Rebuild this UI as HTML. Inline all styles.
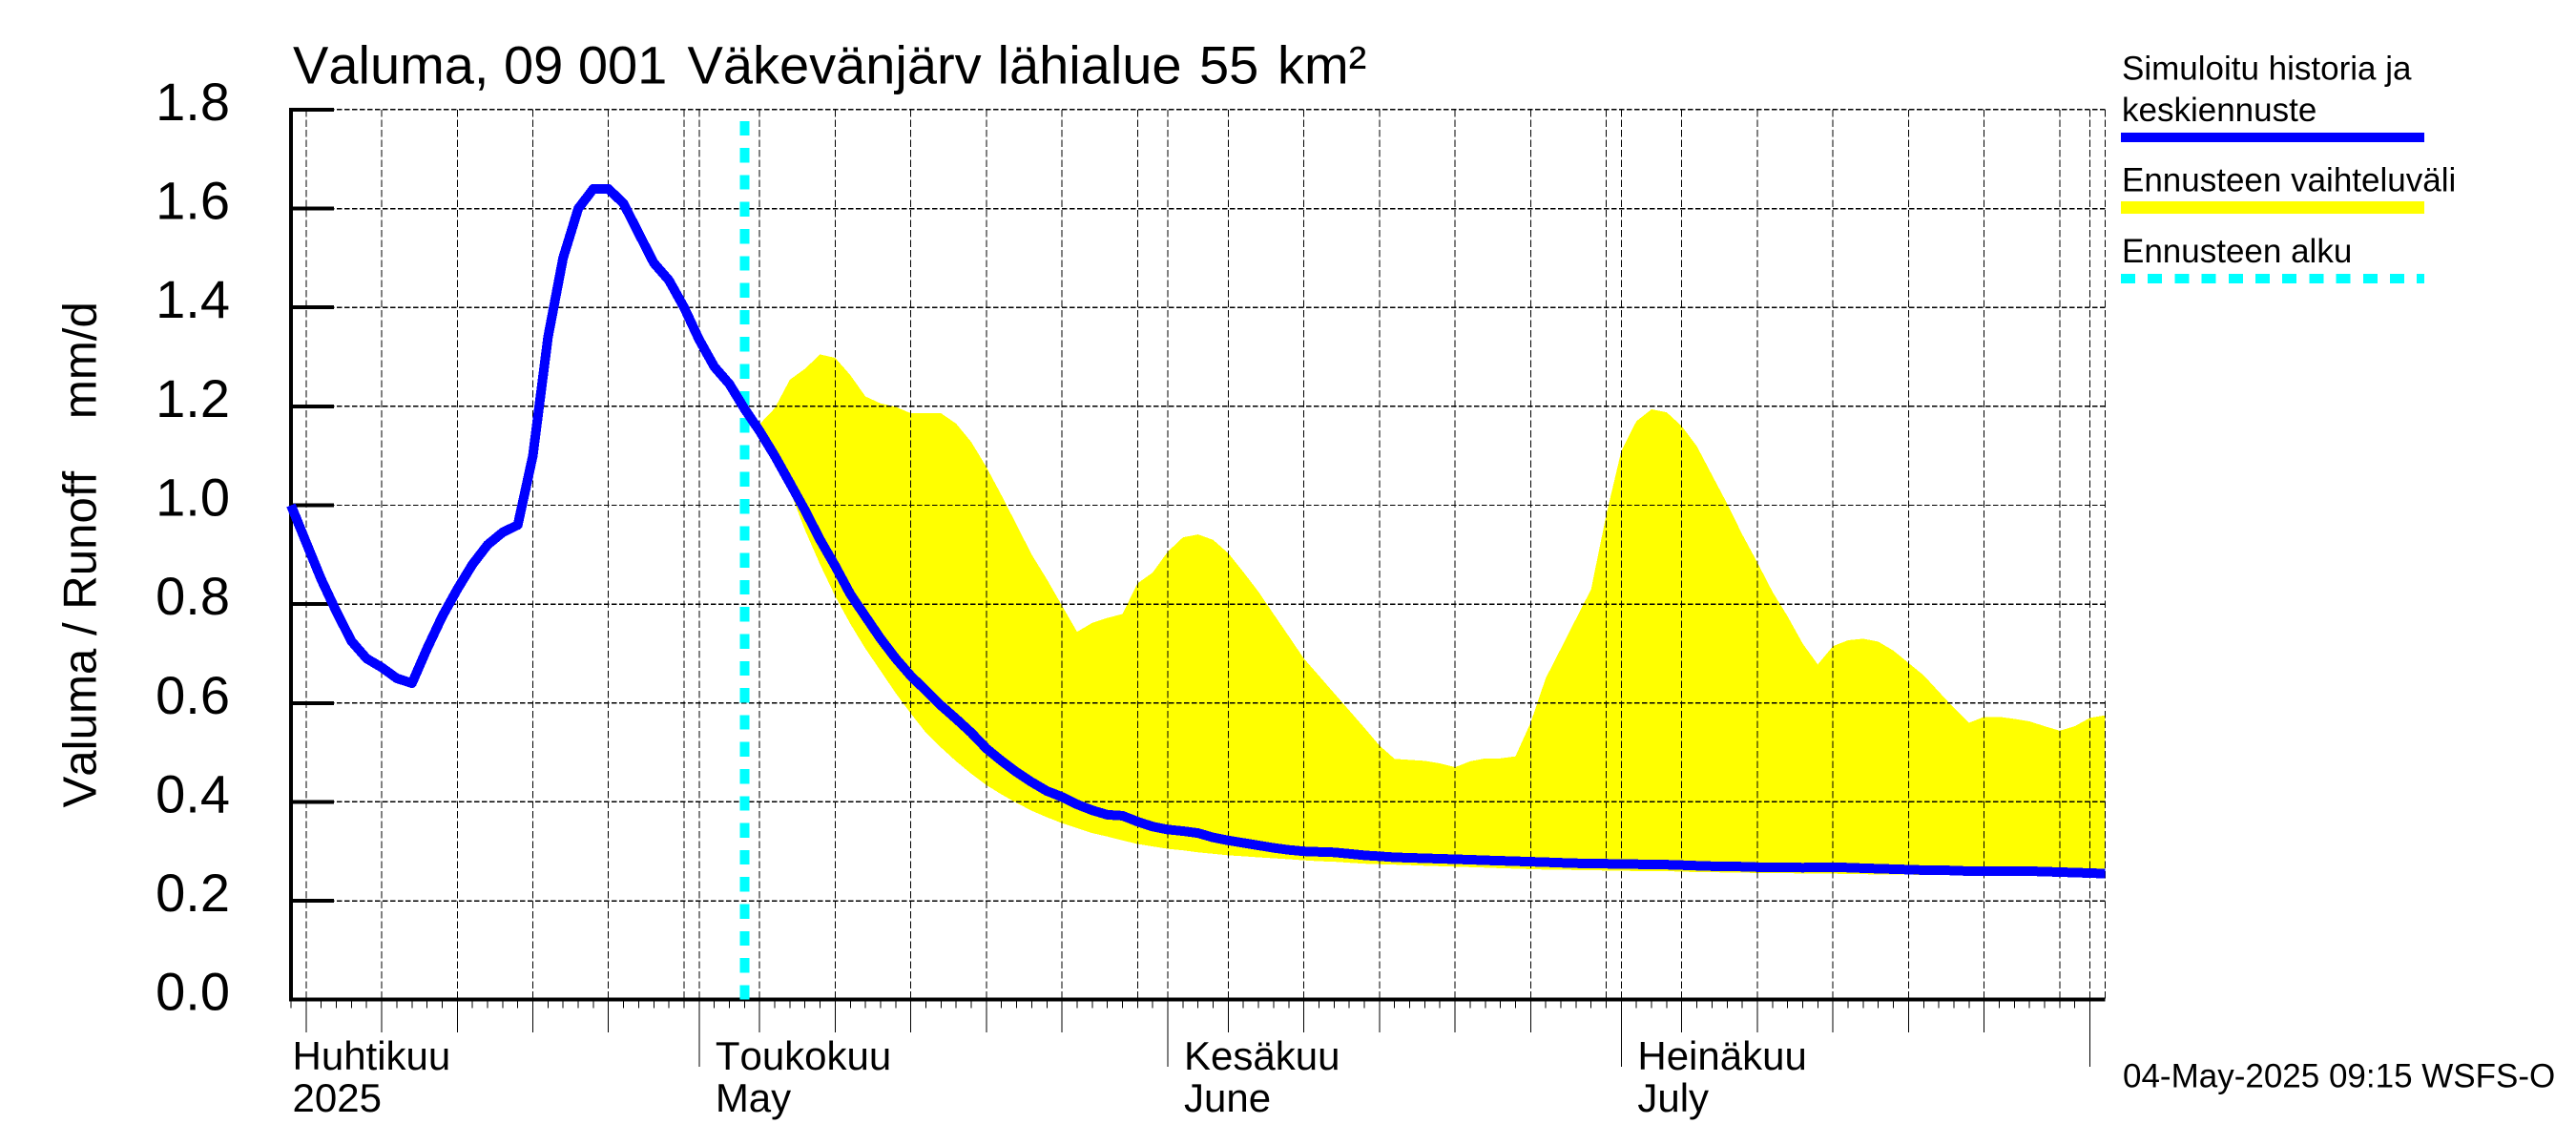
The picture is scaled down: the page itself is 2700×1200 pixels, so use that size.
<!DOCTYPE html>
<html lang="fi">
<head>
<meta charset="utf-8">
<title>Valuma, 09 001 Väkevänjärv lähialue</title>
<style>
html,body{margin:0;padding:0;background:#fff;}
svg{display:block;}
text{font-family:"Liberation Sans",Arial,sans-serif;fill:#000;white-space:pre;font-kerning:none;}
</style>
</head>
<body>
<svg id="chart" xmlns="http://www.w3.org/2000/svg" width="2700" height="1200" viewBox="0 0 2700 1200">
  <rect x="0" y="0" width="2700" height="1200" fill="#fff"/>
  <g id="band-layer"></g>
  <g id="grid-layer"></g>
  <g id="axis-layer"></g>
  <g id="start-layer"></g>
  <g id="line-layer"></g>

  <text x="307" y="87.5" font-size="56">Valuma, 09 001<tspan x="720.5">Väkevänjärv </tspan><tspan x="1045.5">lähialue </tspan><tspan x="1257">55 </tspan><tspan x="1339">km²</tspan></text>
  <text transform="translate(100.5 846.5) rotate(-90)" font-size="49.2">Valuma / Runoff    mm/d</text>

  <g>
    <text x="2224" y="83.5" font-size="35">Simuloitu historia ja</text>
    <text x="2224" y="127" font-size="35">keskiennuste</text>
    <rect x="2223" y="139" width="318" height="10" fill="#0000ff"/>
    <text x="2224" y="200.5" font-size="35">Ennusteen vaihteluväli</text>
    <rect x="2223" y="211" width="318" height="13" fill="#ffff00"/>
    <text x="2224" y="275" font-size="35">Ennusteen alku</text>
    <line x1="2223" y1="292" x2="2541" y2="292" stroke="#00ffff" stroke-width="10" stroke-dasharray="15 13.2" shape-rendering="crispEdges"/>
  </g>

  <text x="2225" y="1139.5" font-size="35">04-May-2025 09:15 WSFS-O</text>
</svg>

<script>
// Values (mm/d), one per day starting from 4 April 2025.
const yTickValues = [0.0, 0.2, 0.4, 0.6, 0.8, 1.0, 1.2, 1.4, 1.6, 1.8];
const yTickLabels = ["0.0", "0.2", "0.4", "0.6", "0.8", "1.0", "1.2", "1.4", "1.6", "1.8"];
const startDate = [2025, 3, 4];
const dayCount = 120;
const forecastStartDay = 30;
const axisMonths = [
  ["Huhtikuu", "2025", -1],
  ["Toukokuu", "May", 27],
  ["Kesäkuu", "June", 58],
  ["Heinäkuu", "July", 88]
];
const runoffValues = [
  1.00,0.925,0.85,0.785,0.725,0.69,0.672,0.65,0.64,0.71,
  0.775,0.83,0.88,0.92,0.945,0.96,1.10,1.34,1.50,1.60,
  1.64,1.64,1.61,1.55,1.49,1.455,1.40,1.335,1.28,1.245,
  1.195,1.15,1.10,1.045,0.99,0.93,0.877,0.82,0.775,0.73,
  0.69,0.655,0.625,0.595,0.568,0.54,0.508,0.483,0.46,0.44,
  0.422,0.41,0.395,0.383,0.374,0.372,0.36,0.35,0.344,0.341,
  0.337,0.328,0.322,0.317,0.312,0.307,0.303,0.30,0.299,0.298,
  0.295,0.292,0.29,0.288,0.287,0.286,0.285,0.284,0.283,0.282,
  0.281,0.28,0.279,0.278,0.277,0.276,0.275,0.275,0.274,0.274,
  0.273,0.273,0.272,0.271,0.27,0.27,0.269,0.268,0.268,0.268,
  0.267,0.268,0.268,0.267,0.266,0.265,0.264,0.263,0.262,0.262,
  0.261,0.26,0.26,0.26,0.26,0.26,0.259,0.258,0.257,0.256,0.255
];
const bandDayOffset = 31;
const bandUpper = [
  1.164,1.196,1.254,1.276,1.305,1.298,1.263,1.22,1.206,1.199,
  1.186,1.186,1.186,1.165,1.128,1.077,1.02,0.96,0.90,0.85,
  0.797,0.744,0.762,0.772,0.78,0.842,0.864,0.906,0.935,0.941,
  0.93,0.903,0.865,0.825,0.78,0.735,0.69,0.655,0.62,0.585,
  0.55,0.514,0.487,0.485,0.483,0.478,0.47,0.482,0.488,0.488,
  0.492,0.56,0.65,0.71,0.77,0.83,0.98,1.11,1.17,1.194,
  1.188,1.16,1.119,1.061,1.003,0.941,0.884,0.825,0.775,0.72,
  0.678,0.715,0.727,0.73,0.724,0.706,0.681,0.656,0.623,0.59,
  0.56,0.572,0.572,0.568,0.563,0.553,0.544,0.553,0.57,0.575
];
const bandLower = [
  1.164,1.09,1.03,0.95,0.88,0.816,0.76,0.71,0.665,0.62,
  0.579,0.54,0.51,0.482,0.457,0.434,0.415,0.398,0.382,0.369,
  0.357,0.347,0.337,0.33,0.322,0.315,0.31,0.305,0.302,0.298,
  0.295,0.292,0.29,0.288,0.286,0.284,0.282,0.28,0.279,0.277,
  0.275,0.274,0.273,0.272,0.271,0.27,0.269,0.268,0.267,0.266,
  0.265,0.264,0.263,0.263,0.262,0.262,0.261,0.261,0.26,0.26,
  0.26,0.259,0.258,0.258,0.257,0.257,0.256,0.256,0.256,0.255,
  0.255,0.255,0.254,0.254,0.253,0.253,0.253,0.252,0.252,0.252,
  0.252,0.252,0.251,0.251,0.25,0.25,0.25,0.249,0.249,0.248
];

const NS = "http://www.w3.org/2000/svg";
function xOf(day) { return 305 + day * 15.845; }
function yOf(value) { return 1047.7 - value * 518.2; }

function svgEl(parent, tag, props) {
  const el = document.createElementNS(NS, tag);
  for (const k in props) el.setAttribute(k, props[k]);
  parent.appendChild(el);
  return el;
}
function dayOfMonth(day) {
  return new Date(Date.UTC(startDate[0], startDate[1], startDate[2] + day)).getUTCDate();
}

const bandLayer = document.getElementById("band-layer");
const gridLayer = document.getElementById("grid-layer");
const axisLayer = document.getElementById("axis-layer");
const startLayer = document.getElementById("start-layer");
const lineLayer = document.getElementById("line-layer");

const plotRight = xOf(dayCount);
const plotTop = yOf(1.8);
const plotBottom = yOf(0);

// forecast band
const upperPts = bandUpper.map((v, i) => xOf(i + bandDayOffset).toFixed(1) + "," + yOf(v).toFixed(1));
const lowerPts = bandLower.map((v, i) => xOf(i + bandDayOffset).toFixed(1) + "," + yOf(v).toFixed(1)).reverse();
const band = svgEl(bandLayer, "polygon", { points: upperPts.concat(lowerPts).join(" "), fill: "#ffff00", "shape-rendering": "crispEdges" });



// horizontal grid + y ticks + y labels
yTickValues.forEach((v, i) => {
  const y = yOf(v);
  if (v > 0) {
    const g = svgEl(gridLayer, "line", { x1: 305, y1: y, x2: plotRight, y2: y, stroke: "#000", "stroke-width": 1.4, "stroke-dasharray": "5.5 2.5", "shape-rendering": "crispEdges" });
    
    
    const t = svgEl(axisLayer, "line", { x1: 305, y1: y, x2: 350, y2: y, stroke: "#000", "stroke-width": 4, "shape-rendering": "crispEdges" });
    
    
  }
  const label = svgEl(axisLayer, "text", { x: 241, y: y + 11, "font-size": 56, "text-anchor": "end" });
  label.textContent = yTickLabels[i];
  
  
});

// vertical grid + x ticks
for (let d = 0; d <= dayCount; d++) {
  const dom = dayOfMonth(d);
  const x = xOf(d);
  const isMonth = d < dayCount && dom === 1;
  const isGrid = dom === 1 || dom % 5 === 0 || d === dayCount;
  if (isGrid) {
    const g = svgEl(gridLayer, "line", { x1: x, y1: plotTop, x2: x, y2: plotBottom, stroke: "#000", "stroke-width": 1, "stroke-dasharray": "7.5 3", "shape-rendering": "crispEdges" });
    
    
  }
  if (d < dayCount) {
    let end = 1056.7;
    if (isMonth) end = 1118;
    else if (dom % 5 === 0 && dom !== 30) end = 1082;
    const t = svgEl(axisLayer, "line", { x1: x, y1: plotBottom, x2: x, y2: end, stroke: "#000", "stroke-width": 1, "shape-rendering": "crispEdges" });
    
    
  }
}

// axis lines
const yAxis = svgEl(axisLayer, "line", { x1: 305, y1: plotTop - 2, x2: 305, y2: plotBottom + 2, stroke: "#000", "stroke-width": 4, "shape-rendering": "crispEdges" });


const xAxis = svgEl(axisLayer, "line", { x1: 303, y1: plotBottom, x2: plotRight, y2: plotBottom, stroke: "#000", "stroke-width": 4, "shape-rendering": "crispEdges" });



// month labels
axisMonths.forEach(m => {
  const x = m[2] < 0 ? 306.5 : xOf(m[2]) + 17;
  const a = svgEl(axisLayer, "text", { x: x, y: 1121, "font-size": 42 });
  a.textContent = m[0];
  
  
  const b = svgEl(axisLayer, "text", { x: x, y: 1165, "font-size": 42 });
  b.textContent = m[1];
  
  
});

// forecast start marker
const startLine = svgEl(startLayer, "line", { x1: xOf(forecastStartDay), y1: plotBottom, x2: xOf(forecastStartDay), y2: 127, stroke: "#00ffff", "stroke-width": 10, "stroke-dasharray": "15.3 13", "shape-rendering": "crispEdges" });



// runoff line
const linePts = runoffValues.map((v, i) => xOf(i).toFixed(1) + "," + yOf(v).toFixed(1)).join(" ");
const runoff = svgEl(lineLayer, "polyline", { points: linePts, fill: "none", stroke: "#0000ff", "stroke-width": 10, "stroke-linejoin": "round", "shape-rendering": "crispEdges" });


</script>
</body>
</html>
